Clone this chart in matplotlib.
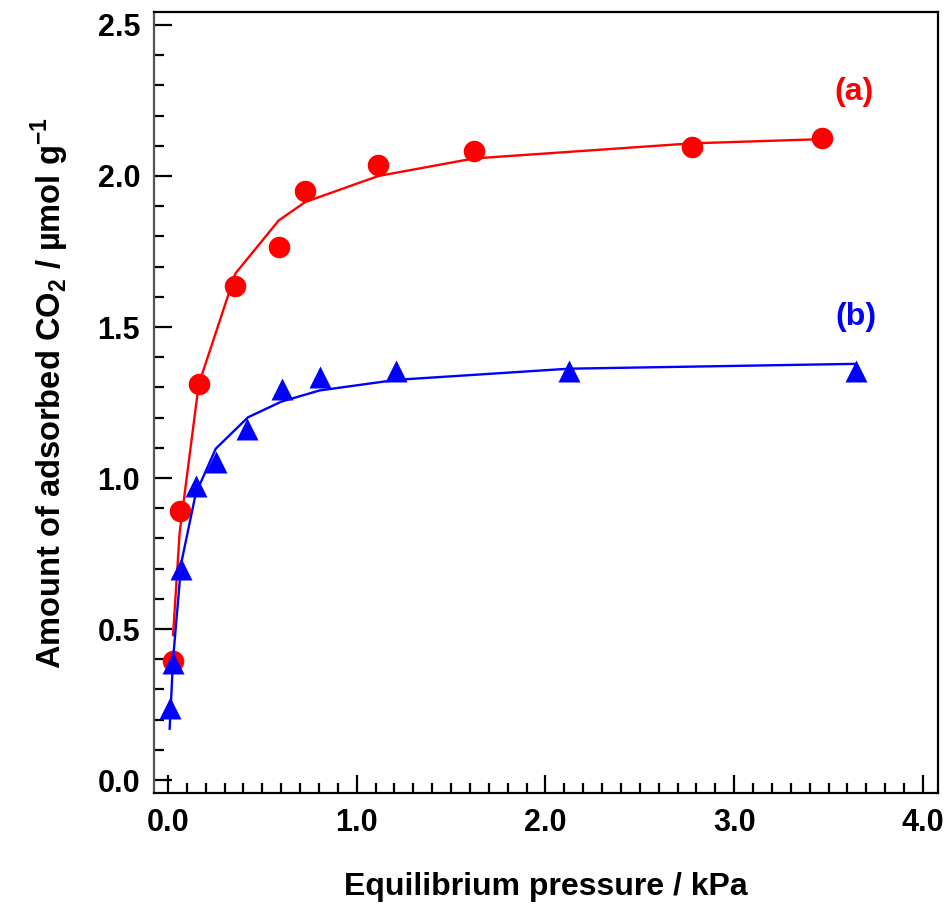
import numpy as np
import matplotlib
matplotlib.use('Agg')
import matplotlib.pyplot as plt
from matplotlib.ticker import MultipleLocator, FormatStrFormatter

plt.rcParams['font.family'] = ['Liberation Sans', 'DejaVu Sans']
plt.rcParams['font.weight'] = 'bold'
plt.rcParams['mathtext.fontset'] = 'custom'
plt.rcParams['mathtext.rm'] = 'Liberation Sans:bold'
plt.rcParams['mathtext.bf'] = 'Liberation Sans:bold'

# =============================================================================
# Data
# =============================================================================
# (a) measured points
pa = [0.025, 0.062, 0.163, 0.357, 0.587, 0.728, 1.115, 1.62, 2.774, 3.463]
qa = [0.395, 0.892, 1.312, 1.636, 1.765, 1.951, 2.036, 2.082, 2.097, 2.126]
# (a) fitted curve
pa_fit = [0.027, 0.062, 0.163, 0.357, 0.587, 0.728, 1.115, 1.62, 2.774, 3.463]
qa_fit = [0.48, 0.82, 1.31, 1.677, 1.853, 1.914, 2.0, 2.058, 2.108, 2.122]
# (b) measured points
pb = [0.009, 0.027, 0.071, 0.147, 0.253, 0.42, 0.606, 0.808, 1.21, 2.125, 3.644]
qb = [0.239, 0.389, 0.699, 0.975, 1.052, 1.163, 1.295, 1.334, 1.356, 1.356, 1.356]
# (b) fitted curve
pb_fit = [0.009, 0.027, 0.071, 0.147, 0.253, 0.424, 0.601, 0.804, 1.21, 2.125, 3.644]
qb_fit = [0.17, 0.40, 0.72, 0.948, 1.097, 1.201, 1.253, 1.29, 1.325, 1.362, 1.378]

# =============================================================================
# Plot
# =============================================================================
fig = plt.figure(figsize=(9.5, 9.08), dpi=100)
ax = fig.add_axes([0.1621, 0.1266, 0.8253, 0.8602])

ax.plot(pa_fit, qa_fit, '-', color='#ff0000', lw=1.7)
ax.plot(pa, qa, 'o', color='#ff0000', ms=15.5, mec='none')
ax.plot(pb_fit, qb_fit, '-', color='#0000ff', lw=1.7)
ax.plot(pb, qb, '^', color='#0000ff', ms=16, mec='none')

ax.text(3.634, 2.279, '(a)', color='#ff0000', fontsize=23, fontweight='bold',
        ha='center', va='center')
ax.text(3.643, 1.533, '(b)', color='#0000ff', fontsize=23, fontweight='bold',
        ha='center', va='center')

ax.set_xlim(-0.074, 4.08)
ax.set_ylim(-0.043, 2.543)
ax.xaxis.set_major_locator(MultipleLocator(1.0))
ax.xaxis.set_minor_locator(MultipleLocator(0.1))
ax.yaxis.set_major_locator(MultipleLocator(0.5))
ax.yaxis.set_minor_locator(MultipleLocator(0.1))
ax.xaxis.set_major_formatter(FormatStrFormatter('%.1f'))
ax.yaxis.set_major_formatter(FormatStrFormatter('%.1f'))

ax.tick_params(which='both', direction='in', top=False, right=False, width=1.6,
               labelsize=22)
ax.tick_params(which='major', length=13)
ax.tick_params(which='minor', length=7)
ax.tick_params(axis='x', pad=11)
ax.tick_params(axis='y', pad=10)
for s in ax.spines.values():
    s.set_linewidth(1.6)
ax.spines['left'].set_color('#555555')

ax.set_xlabel('Equilibrium pressure / kPa', fontsize=23, fontweight='bold',
              labelpad=24)
ax.set_ylabel(r'Amount of adsorbed CO$_\mathbf{2}$ / µmol g$^\mathbf{-1}$',
              fontsize=23.5, fontweight='bold', labelpad=19)
ax.yaxis.label.set_y(0.512)

fig.savefig('out.png', dpi=100)
